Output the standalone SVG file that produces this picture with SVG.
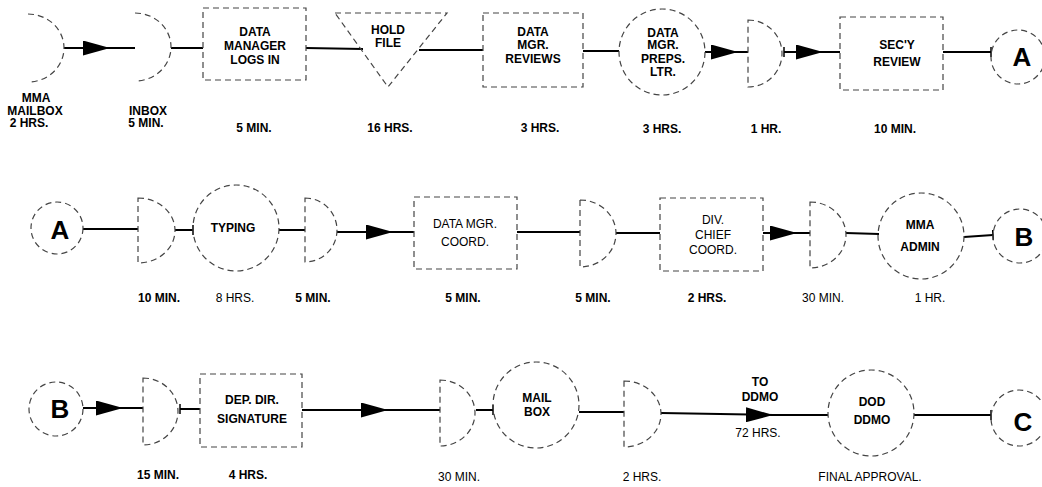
<svg xmlns="http://www.w3.org/2000/svg" width="1042" height="487" viewBox="0 0 1042 487">
<style>
.bg{fill:#fff}
.sh{fill:none;stroke:#444;stroke-width:1.2;stroke-dasharray:6 4}
.cn{fill:none;stroke:#000;stroke-width:2}
.ar{marker-mid:url(#arrow)}
.ts{marker-start:url(#tick)}
.te{marker-end:url(#tick)}
text{font-family:"Liberation Sans",Arial,sans-serif;font-size:12px;font-weight:bold;fill:#000;text-anchor:middle}
.lt{font-weight:normal}
.big{font-size:26px}
</style>
<defs>
<marker id="arrow" markerUnits="userSpaceOnUse" viewBox="0 0 27 15" refX="27" refY="7.5" markerWidth="27" markerHeight="15" orient="auto"><path d="M0,0 L27,7.5 L0,15 Z" fill="#000"/></marker>
<marker id="tick" markerUnits="userSpaceOnUse" viewBox="0 0 2 10" refX="1" refY="5" markerWidth="2" markerHeight="10" orient="auto"><path d="M1,0 V10" stroke="#000" stroke-width="1.5"/></marker>
</defs>
<rect class="bg" x="0" y="0" width="1042" height="487"/>

<g id="connectors">
<path class="cn ar" d="M64,48 L110,48 L135,48"/>
<path class="cn" d="M171,48 L203,48"/>
<path class="cn" d="M306,48 L363,49"/>
<path class="cn" d="M419,50 L483,50"/>
<path class="cn" d="M583,51 L619,51"/>
<path class="cn ar" d="M705,52 L738,52 L748,52"/>
<path class="cn ar ts" d="M784,52 L823,52 L840,52"/>
<path class="cn te" d="M943,52 L991,52"/>

<path class="cn" d="M83,229 L138,229"/>
<path class="cn te" d="M175,230 L193,230"/>
<path class="cn" d="M279,230 L305,230"/>
<path class="cn ar" d="M337,232 L393,232 L414,232"/>
<path class="cn" d="M517,232 L580,232"/>
<path class="cn" d="M616,233 L660,233"/>
<path class="cn ar" d="M763,233 L797,233 L810,233"/>
<path class="cn" d="M846,233 L879,234"/>
<path class="cn te" d="M964,237 L993,235"/>

<path class="cn ar" d="M83,408 L123,408 L143,408"/>
<path class="cn ts" d="M180,409 L200,409"/>
<path class="cn ar" d="M302,410 L388,410 L440,410"/>
<path class="cn te" d="M476,410 L493,410"/>
<path class="cn" d="M579,412 L624,412"/>
<path class="cn ar" d="M661,413 L773,415 L828,415"/>
<path class="cn te" d="M914,415 L991,415"/>
<text x="760" y="386">TO</text>
<text x="760" y="401">DDMO</text>
<text class="lt" x="758" y="437">72 HRS.</text>
</g>

<!-- Row 1 -->
<g id="mma-mailbox">
<path class="sh" d="M28,14 A36,34 0 0 1 28,82"/>
<text x="36" y="102">MMA</text>
<text x="35" y="115">MAILBOX</text>
<text x="29" y="127">2 HRS.</text>
</g>
<g id="inbox">
<path class="sh" d="M135,13 A36,34 0 0 1 135,81"/>
<text x="148" y="115">INBOX</text>
<text x="146" y="127">5 MIN.</text>
</g>
<g id="logs-in">
<rect class="sh" x="203" y="8" width="103" height="72"/>
<text x="255" y="36">DATA</text>
<text x="255" y="50">MANAGER</text>
<text x="255" y="64">LOGS IN</text>
<text x="254" y="132">5 MIN.</text>
</g>
<g id="hold-file">
<path class="sh" d="M335,13 L447,13 L388,87 Z"/>
<text x="388" y="34">HOLD</text>
<text x="388" y="47">FILE</text>
<text x="390" y="132">16 HRS.</text>
</g>
<g id="mgr-reviews">
<rect class="sh" x="483" y="13" width="100" height="74"/>
<text x="533" y="36">DATA</text>
<text x="533" y="49">MGR.</text>
<text x="533" y="63">REVIEWS</text>
<text x="540" y="132">3 HRS.</text>
</g>
<g id="mgr-preps">
<circle class="sh" cx="662" cy="52" r="43"/>
<text x="663" y="37">DATA</text>
<text x="663" y="49">MGR.</text>
<text x="663" y="63">PREPS.</text>
<text x="663" y="76">LTR.</text>
<text x="662" y="133">3 HRS.</text>
</g>
<g id="delay-1hr">
<path class="sh" d="M748,20 A34,33.5 0 0 1 748,87 Z"/>
<text x="766" y="133">1 HR.</text>
</g>
<g id="secy-review">
<rect class="sh" x="840" y="17" width="103" height="73"/>
<text x="897" y="49">SEC'Y</text>
<text x="897" y="66">REVIEW</text>
<text x="895" y="133">10 MIN.</text>
</g>
<g id="conn-a1">
<circle class="sh" cx="1018" cy="57" r="27"/>
<text class="big" x="1022" y="66">A</text>
</g>

<!-- Row 2 -->
<g id="conn-a2">
<circle class="sh" cx="57" cy="228" r="26"/>
<text class="big" x="60" y="239">A</text>
</g>
<g id="delay-10min">
<path class="sh" d="M138,198 A37,32.5 0 0 1 138,263 Z"/>
<text x="159" y="302">10 MIN.</text>
</g>
<g id="typing">
<circle class="sh" cx="236" cy="228" r="43"/>
<text x="233" y="232">TYPING</text>
<text class="lt" x="235" y="302">8 HRS.</text>
</g>
<g id="delay-5min-a">
<path class="sh" d="M305,198 A32,32 0 0 1 305,262 Z"/>
<text x="313" y="302">5 MIN.</text>
</g>
<g id="mgr-coord">
<rect class="sh" x="414" y="197" width="103" height="72"/>
<text class="lt" x="465" y="228">DATA MGR.</text>
<text class="lt" x="465" y="246">COORD.</text>
<text x="463" y="302">5 MIN.</text>
</g>
<g id="delay-5min-b">
<path class="sh" d="M580,200 A36,33.5 0 0 1 580,267 Z"/>
<text x="593" y="302">5 MIN.</text>
</g>
<g id="div-chief">
<rect class="sh" x="660" y="198" width="103" height="73"/>
<text class="lt" x="713" y="224">DIV.</text>
<text class="lt" x="713" y="239">CHIEF</text>
<text class="lt" x="713" y="254">COORD.</text>
<text x="707" y="302">2 HRS.</text>
</g>
<g id="delay-30min-a">
<path class="sh" d="M810,202 A36,33 0 0 1 810,268 Z"/>
<text class="lt" x="823" y="302">30 MIN.</text>
</g>
<g id="mma-admin">
<circle class="sh" cx="921" cy="236" r="43"/>
<text x="920" y="229">MMA</text>
<text x="920" y="251">ADMIN</text>
<text class="lt" x="930" y="302">1 HR.</text>
</g>
<g id="conn-b1">
<circle class="sh" cx="1020" cy="236" r="27"/>
<text class="big" x="1024" y="246">B</text>
</g>

<!-- Row 3 -->
<g id="conn-b2">
<circle class="sh" cx="56" cy="409" r="27"/>
<text class="big" x="60" y="418">B</text>
</g>
<g id="delay-15min">
<path class="sh" d="M143,378 A35,33.5 0 0 1 143,445 Z"/>
<text x="158" y="479">15 MIN.</text>
</g>
<g id="dep-dir">
<rect class="sh" x="200" y="374" width="102" height="73"/>
<text x="252" y="404">DEP. DIR.</text>
<text x="252" y="423">SIGNATURE</text>
<text x="248" y="479">4 HRS.</text>
</g>
<g id="delay-30min-b">
<path class="sh" d="M440,380 A35,33 0 0 1 440,446 Z"/>
<text class="lt" x="459" y="481">30 MIN.</text>
</g>
<g id="mail-box">
<circle class="sh" cx="536" cy="405" r="43"/>
<text x="537" y="402">MAIL</text>
<text x="537" y="416">BOX</text>
</g>
<g id="delay-2hrs">
<path class="sh" d="M624,381 A37,33 0 0 1 624,447 Z"/>
<text class="lt" x="642" y="481">2 HRS.</text>
</g>
<g id="dod-ddmo">
<circle class="sh" cx="871" cy="413" r="43"/>
<text x="872" y="406">DOD</text>
<text x="872" y="424">DDMO</text>
<text class="lt" x="870" y="481">FINAL APPROVAL.</text>
</g>
<g id="conn-c">
<circle class="sh" cx="1019" cy="418" r="28"/>
<text class="big" x="1023" y="431">C</text>
</g>
</svg>
